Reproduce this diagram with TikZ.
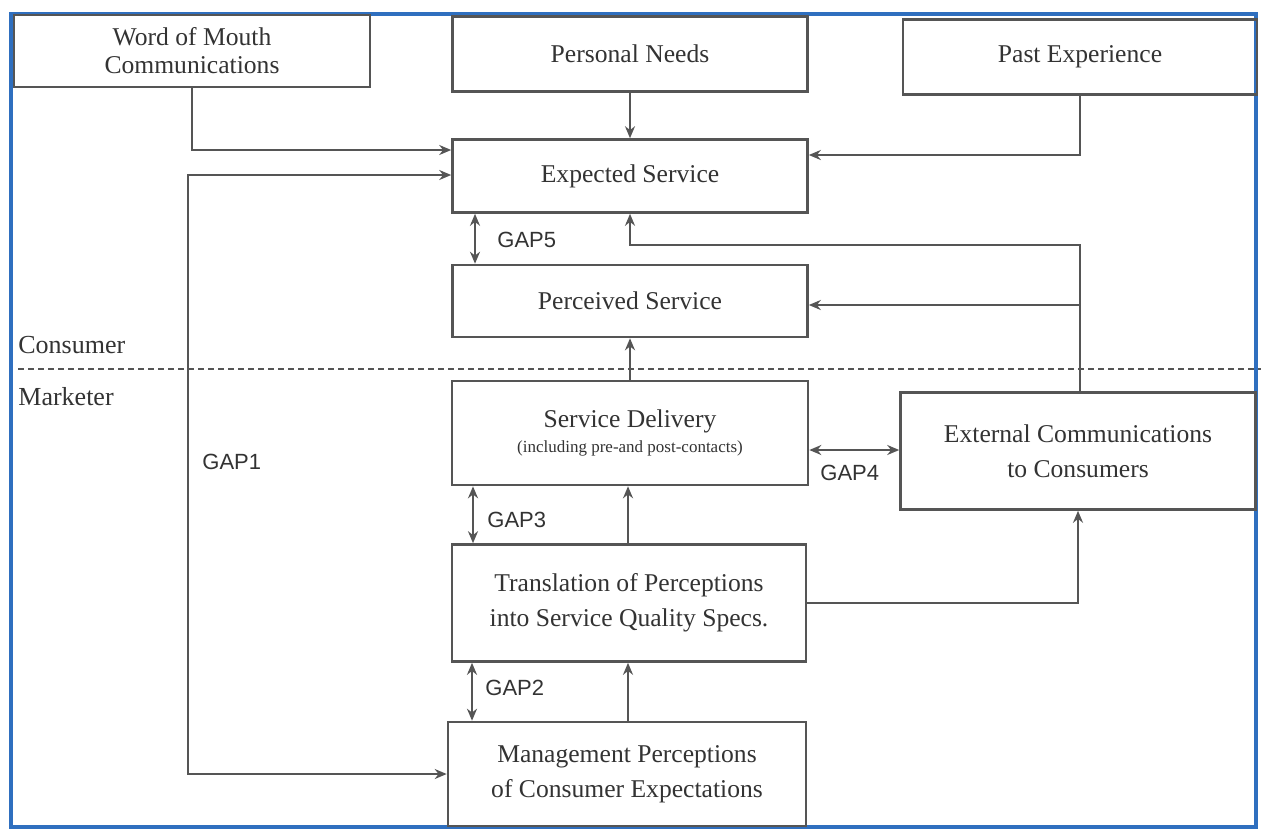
\documentclass[tikz,border=0pt]{standalone}
\usepackage{fontspec}
\setmainfont{Liberation Serif}
\newfontfamily\gapfont{Liberation Sans}
\usetikzlibrary{arrows.meta}
\definecolor{ln}{HTML}{555555}
\definecolor{tx}{HTML}{333333}
\definecolor{frameblue}{HTML}{2F6FBF}
\tikzset{
  tip/.tip={Stealth[length=6pt,width=5pt]},
  box/.style={draw=ln, line width=1.3pt, rectangle, inner sep=0pt, align=center, text=tx,
    font=\fontsize{12.8}{17.5}\selectfont},
  arr/.style={draw=ln, line width=1.3pt, -tip},
  dbl/.style={draw=ln, line width=1.3pt, tip-tip},
  gaplbl/.style={anchor=west, inner sep=0pt, text=tx, font=\gapfont\fontsize{11}{13}\selectfont},
  side/.style={anchor=west, inner sep=0pt, text=tx, font=\fontsize{13}{15}\selectfont}
}
\begin{document}
\begin{tikzpicture}[x=0.5pt, y=-0.5pt]
\useasboundingbox (0,0) rectangle (1261,831);
\fill[white] (0,0) rectangle (1261,831);
\draw[frameblue, line width=2pt] (11,14) rectangle (1256,827);

\node[box, minimum width=178pt, minimum height=36pt, font=\fontsize{12.8}{14}\selectfont] (wom) at (192,51) {Word of Mouth\\Communications};
\node[box, minimum width=177.5pt, minimum height=37.5pt] (pn) at (630,54) {Personal Needs};
\node[box, minimum width=177pt, minimum height=37.5pt] (pe) at (1080,57) {Past Experience};
\node[box, minimum width=177.5pt, minimum height=36.5pt] (es) at (630,176) {Expected Service};
\node[box, minimum width=177.5pt, minimum height=36pt] (ps) at (630,301) {Perceived Service};
\node[box, minimum width=178pt, minimum height=52pt, font=\fontsize{12.8}{12.5}\selectfont] (sd) at (630,433) {Service Delivery\\{\fontsize{8.5}{10}\selectfont (including pre-and post-contacts)}};
\node[box, minimum width=177.5pt, minimum height=58.5pt] (ec) at (1078,451) {External Communications\\to Consumers};
\node[box, minimum width=177pt, minimum height=58.5pt] (tr) at (629,603) {Translation of Perceptions\\into Service Quality Specs.};
\node[box, minimum width=179pt, minimum height=52pt] (mp) at (627,774) {Management Perceptions\\of Consumer Expectations};

\draw[ln, line width=0.8pt, dash pattern=on 3pt off 2pt] (18,369) -- (1261,369);
\node[side] (cons) at (18,345) {Consumer};
\node[side] (mark) at (18,397) {Marketer};

\draw[arr] (wom.south) |- (es.west |- 0,150);
\draw[dbl] (mp.west) -| (188,175) -- (es.west |- 0,175);
\draw[arr] (pn.south) -- (es.north);
\draw[arr] (pe.south) |- (es.east |- 0,155);
\draw[dbl] (es.south -| 475,0) -- (ps.north -| 475,0);
\draw[arr] (ec.north -| 1080,0) |- (630,245) -- (es.south);
\draw[arr] (1080,305) -- (ps.east |- 0,305);
\draw[arr] (sd.north) -- (ps.south);
\draw[dbl] (sd.east |- 0,450) -- (ec.west |- 0,450);
\draw[dbl] (sd.south -| 473,0) -- (tr.north -| 473,0);
\draw[arr] (tr.north -| 628,0) -- (sd.south -| 628,0);
\draw[arr] (tr.east) -| (ec.south);
\draw[dbl] (tr.south -| 472,0) -- (mp.north -| 472,0);
\draw[arr] (mp.north -| 628,0) -- (tr.south -| 628,0);

\node[gaplbl] (g5) at (497,240) {GAP5};
\node[gaplbl] (g1) at (202,462) {GAP1};
\node[gaplbl] (g4) at (820,473) {GAP4};
\node[gaplbl] (g3) at (487,520) {GAP3};
\node[gaplbl] (g2) at (485,688) {GAP2};
\end{tikzpicture}
\end{document}
